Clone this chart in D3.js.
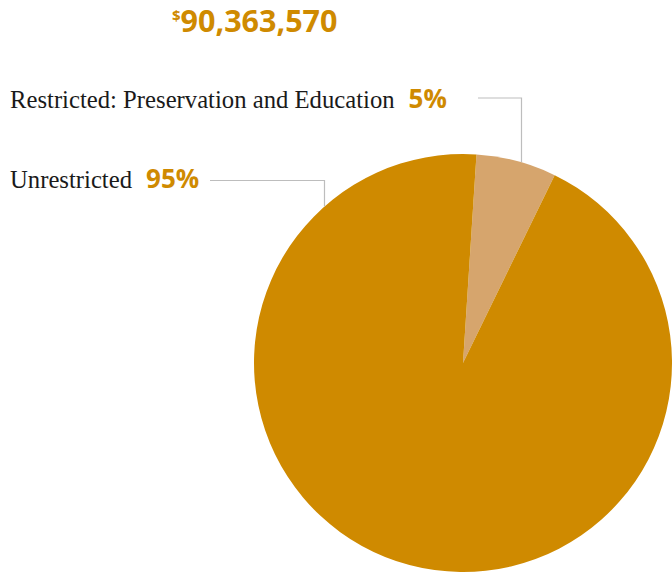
<!DOCTYPE html>
<html>
<head>
<meta charset="utf-8">
<script src="https://cdn.jsdelivr.net/npm/d3@7"></script>
<style>
  html, body { margin: 0; padding: 0; background: #fff; }
  svg { display: block; }
</style>
</head>
<body>
<svg id="chart"></svg>
<script>
// slices, in drawing order (clockwise from the top)
const categories = ["Restricted: Preservation and Education", "Unrestricted"];
const shares = [6.2, 93.8];
const percentLabels = ["5%", "95%"];
const total = "90,363,570";

const width = 672;
const height = 576;
const cx = 463, cy = 363, radius = 209;
const gold = "#cf8a00";
const colors = d3.scaleOrdinal().domain(categories).range(["#d6a56d", "#cf8a00"]);

const svg = d3.select("#chart")
    .attr("width", width)
    .attr("height", height);

// title
const title = svg.append("text")
    .attr("x", 172)
    .attr("y", 32)
    .attr("fill", gold)
    .attr("font-family", "'Open Sans', sans-serif")
    .attr("font-weight", 700);
title.append("tspan")
    .attr("font-size", "15px")
    .attr("dy", "-11")
    .text("$");
title.append("tspan")
    .attr("font-size", "30.5px")
    .attr("dy", "11")
    .text(total);

const pie = d3.pie()
    .sort(null)
    .startAngle(3.7 * Math.PI / 180)
    .endAngle(3.7 * Math.PI / 180 + 2 * Math.PI)
    .value(d => d);

const arc = d3.arc().innerRadius(0).outerRadius(radius);

const g = svg.append("g")
    .attr("transform", `translate(${cx},${cy})`);

g.selectAll("path.slice")
    .data(pie(shares))
    .enter()
    .append("path")
    .attr("class", "slice")
    .attr("d", arc)
    .attr("fill", (d, i) => colors(categories[i]));

// leader lines + labels
const labels = [
    { textX: 10, textY: 108, lineStart: 478, lineY: 98, elbowX: 521.5 },
    { textX: 10, textY: 188, lineStart: 210, lineY: 180.5, elbowX: 324.5 }
];

labels.forEach((l, i) => {
    const dx = l.elbowX - cx;
    const yEdge = cy - Math.sqrt(radius * radius - dx * dx);
    svg.append("polyline")
        .attr("points", `${l.lineStart},${l.lineY} ${l.elbowX},${l.lineY} ${l.elbowX},${yEdge}`)
        .attr("fill", "none")
        .attr("stroke", "#bdbdbd")
        .attr("stroke-width", 1.2);

    const t = svg.append("text")
        .attr("x", l.textX)
        .attr("y", l.textY);
    t.append("tspan")
        .attr("font-family", "'Liberation Serif', serif")
        .attr("font-size", "24.7px")
        .attr("fill", "#1a1a1a")
        .text(categories[i]);
    t.append("tspan")
        .attr("dx", "14")
        .attr("font-family", "'Open Sans', sans-serif")
        .attr("font-weight", 700)
        .attr("font-size", "26px")
        .attr("fill", gold)
        .text(percentLabels[i]);
});
</script>
</body>
</html>
